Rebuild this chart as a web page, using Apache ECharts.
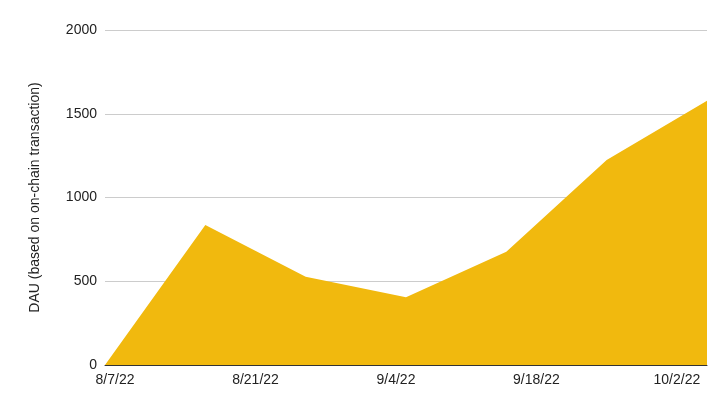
<!DOCTYPE html>
<html>
<head>
<meta charset="utf-8">
<title>DAU</title>
<script src="https://cdn.jsdelivr.net/npm/echarts@6/dist/echarts.min.js"></script>
<style>
  html, body { margin: 0; padding: 0; background: #fff; }
  #chart { width: 724px; height: 399px; }
</style>
</head>
<body>
<div id="chart"></div>
<script>
  // points (roughly every 10 days)
  const dates = ["2022-08-06", "2022-08-16", "2022-08-26", "2022-09-05", "2022-09-15", "2022-09-25", "2022-10-05"];
  const dau = [0, 836, 527, 404, 676, 1224, 1578];
  const tickDates = ["2022-08-07", "2022-08-21", "2022-09-04", "2022-09-18", "2022-10-02"];
  const yTicks = [0, 500, 1000, 1500, 2000];

  const ts = (d) => Date.UTC(+d.slice(0, 4), +d.slice(5, 7) - 1, +d.slice(8, 10));
  const fmt = (v) => {
    const d = new Date(v);
    return (d.getUTCMonth() + 1) + "/" + d.getUTCDate() + "/" + String(d.getUTCFullYear()).slice(2);
  };

  const FONT = "Liberation Sans, Arial, sans-serif";
  const chart = echarts.init(document.getElementById("chart"), null, { renderer: "canvas" });

  chart.setOption({
    animation: false,
    grid: { left: 105, right: 17, top: 30, bottom: 34 },
    xAxis: {
      type: "value",
      min: ts(dates[0]),
      max: ts(dates[dates.length - 1]),
      axisLine: { show: true, lineStyle: { color: "#333", width: 1 } },
      axisTick: { show: false },
      splitLine: { show: false },
      axisLabel: {
        customValues: tickDates.map(ts),
        formatter: fmt,
        color: "#222", fontFamily: FONT, fontSize: 14, margin: 8,
        showMinLabel: true, showMaxLabel: true,
      },
    },
    yAxis: {
      type: "value",
      min: yTicks[0],
      max: yTicks[yTicks.length - 1],
      interval: 500,
      name: "DAU (based on on-chain transaction)",
      nameLocation: "middle",
      nameGap: 63,
      nameTextStyle: { color: "#222", fontFamily: FONT, fontSize: 14 },
      axisLine: { show: false },
      axisTick: { show: false },
      axisLabel: { color: "#222", fontFamily: FONT, fontSize: 14, margin: 8, formatter: (v) => String(v) },
      splitLine: { lineStyle: { color: "#cccccc", width: 1 } },
    },
    series: [{
      type: "line",
      symbol: "none",
      data: dates.map((d, i) => [ts(d), dau[i]]),
      lineStyle: { width: 0 },
      areaStyle: { color: "#F1B90E", opacity: 1 },
    }],
  });
</script>
</body>
</html>
